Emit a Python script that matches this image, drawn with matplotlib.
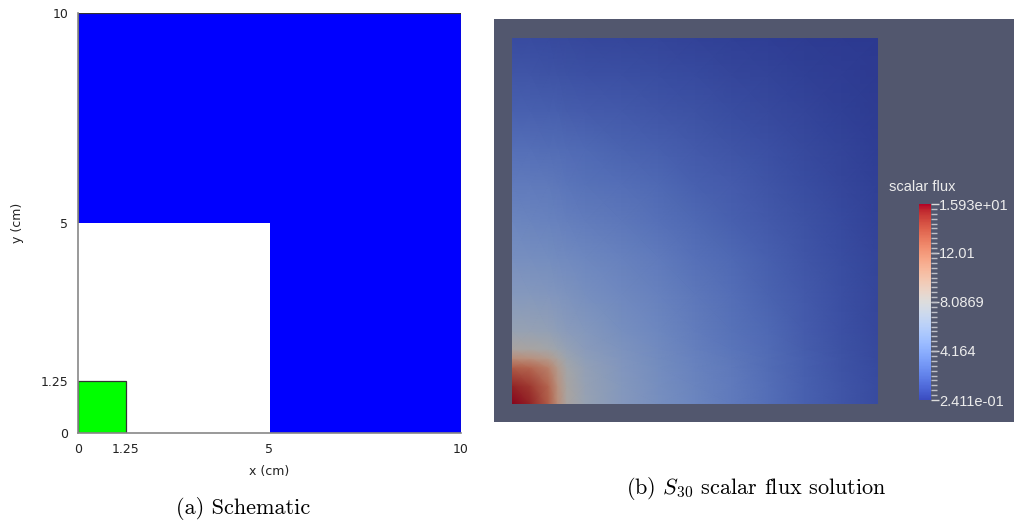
import numpy as np
import matplotlib
matplotlib.use("Agg")
import matplotlib.pyplot as plt
from matplotlib.patches import Rectangle
from matplotlib.colors import Normalize, ListedColormap
from matplotlib.cm import ScalarMappable
from matplotlib.ticker import FixedLocator

# ---------------- data ----------------
# schematic regions (lower-left corner at origin, square side in cm)
region_sizes = [10.0, 5.0, 1.25]
region_colors = ["#0000ff", "#ffffff", "#00ff00"]
axis_ticks = [0, 1.25, 5, 10]
axis_ticklabels = ["0", "1.25", "5", "10"]

# scalar flux sampled on a (non-uniform) node grid, rows = y, cols = x
grid_nodes = [0.0, 0.5, 1.0, 1.25, 1.5, 2.0, 3.0, 4.0, 5.0, 6.0, 7.0, 8.0, 9.0, 10.0]
flux = [
    [15.9, 15.2, 13.0, 10.5, 8.4, 7.0, 5.8, 5.0, 4.3, 3.6, 2.9, 2.2, 1.6, 1.1],
    [15.2, 14.5, 12.6, 10.2, 8.3, 6.9, 5.7, 4.9, 4.2, 3.6, 2.9, 2.2, 1.6, 1.1],
    [13.0, 12.6, 11.2, 9.4, 7.9, 6.7, 5.6, 4.8, 4.1, 3.5, 2.8, 2.1, 1.5, 1.05],
    [10.5, 10.2, 9.4, 8.4, 7.4, 6.4, 5.5, 4.7, 4.0, 3.4, 2.8, 2.1, 1.5, 1.0],
    [8.4, 8.3, 7.9, 7.4, 6.8, 6.1, 5.3, 4.6, 3.9, 3.3, 2.7, 2.0, 1.45, 1.0],
    [7.0, 6.9, 6.7, 6.4, 6.1, 5.7, 5.0, 4.4, 3.7, 3.1, 2.6, 1.95, 1.4, 0.95],
    [5.8, 5.7, 5.6, 5.5, 5.3, 5.0, 4.5, 4.0, 3.4, 2.9, 2.3, 1.8, 1.3, 0.9],
    [5.0, 4.9, 4.8, 4.7, 4.6, 4.4, 4.0, 3.6, 3.0, 2.6, 2.1, 1.65, 1.2, 0.8],
    [4.3, 4.2, 4.1, 4.0, 3.9, 3.7, 3.4, 3.0, 2.6, 2.2, 1.8, 1.45, 1.05, 0.7],
    [3.6, 3.6, 3.5, 3.4, 3.3, 3.1, 2.9, 2.6, 2.2, 1.9, 1.55, 1.2, 0.9, 0.6],
    [2.9, 2.9, 2.8, 2.8, 2.7, 2.6, 2.3, 2.1, 1.8, 1.55, 1.3, 1.0, 0.75, 0.5],
    [2.2, 2.2, 2.1, 2.1, 2.0, 1.95, 1.8, 1.65, 1.45, 1.2, 1.0, 0.8, 0.6, 0.42],
    [1.6, 1.6, 1.5, 1.5, 1.45, 1.4, 1.3, 1.2, 1.05, 0.9, 0.75, 0.6, 0.45, 0.33],
    [1.1, 1.1, 1.05, 1.0, 1.0, 0.95, 0.9, 0.8, 0.7, 0.6, 0.5, 0.42, 0.33, 0.24],
]
flux_min = 0.2411
flux_max = 15.93
cbar_ticks = [0.2411, 4.164, 8.0869, 12.01, 15.93]
cbar_ticklabels = ["2.411e-01", "4.164", "8.0869", "12.01", "1.593e+01"]

# ---------------- figure ----------------
W, H = 1014, 523
fig = plt.figure(figsize=(W / 100, H / 100), dpi=100)
fig.patch.set_facecolor("white")
plt.rcParams["mathtext.fontset"] = "cm"


def px_rect(x0, y0, x1, y1):
    """Figure-fraction rectangle from a pixel box (top-left origin)."""
    return [x0 / W, 1 - y1 / H, (x1 - x0) / W, (y1 - y0) / H]


# ----- (a) schematic -----
ax = fig.add_axes(px_rect(78, 13, 461, 433))
for size, color in zip(region_sizes, region_colors):
    edge = "#333333" if color != "#ffffff" else "none"
    ax.add_patch(Rectangle((0, 0), size, size, facecolor=color,
                           edgecolor=edge, linewidth=0.9, zorder=1))
ax.set_xlim(0, 10)
ax.set_ylim(0, 10)
ax.set_xticks(axis_ticks)
ax.set_xticklabels(axis_ticklabels)
ax.set_yticks(axis_ticks)
ax.set_yticklabels(axis_ticklabels)
ax.tick_params(length=0, labelsize=9, pad=7, colors="#222222")
for side in ("top", "right"):
    ax.spines[side].set_visible(False)
for side in ("left", "bottom"):
    ax.spines[side].set_color("#888888")
    ax.spines[side].set_linewidth(1.2)
    ax.spines[side].set_zorder(3)
ax.set_xlabel("x (cm)", fontsize=9, color="#222222")
ax.set_ylabel("y (cm)", fontsize=9, color="#222222")
ax.xaxis.set_label_coords(0.5, -0.076)
ax.yaxis.set_label_coords(-0.141, 0.5)

fig.text(243 / W, 1 - 509 / H, "(a) Schematic", family="cmr10",
         fontsize=16, ha="center", va="center")
fig.text(756 / W, 1 - 488 / H, r"(b) $S_{30}$ scalar flux solution",
         family="cmr10", fontsize=16, ha="center", va="center")

# ----- (b) flux field in a viewer-style panel -----
bg = (82 / 255, 87 / 255, 110 / 255)
bg_ax = fig.add_axes(px_rect(494, 19, 1014, 422))
bg_ax.set_facecolor(bg)
bg_ax.set_xticks([])
bg_ax.set_yticks([])
for s in bg_ax.spines.values():
    s.set_visible(False)

base = plt.get_cmap("coolwarm")
lit = base(np.linspace(0, 1, 256))[:, :3] * 0.75
shaded = ListedColormap(lit)
norm = Normalize(vmin=flux_min, vmax=flux_max)

fax = fig.add_axes(px_rect(512, 38, 878, 404))
X, Y = np.meshgrid(grid_nodes, grid_nodes)
fax.pcolormesh(X, Y, np.array(flux), cmap=shaded, norm=norm,
               shading="gouraud")
fax.set_xlim(0, 10)
fax.set_ylim(0, 10)
fax.set_axis_off()

cax = fig.add_axes(px_rect(919, 204, 931, 400))
cb = fig.colorbar(ScalarMappable(norm=norm, cmap=base), cax=cax)
cb.outline.set_visible(False)
cb.set_ticks(cbar_ticks)
cb.set_ticklabels(cbar_ticklabels)
cax.yaxis.set_minor_locator(FixedLocator(np.linspace(flux_min, flux_max, 41)))
cax.tick_params(which="major", length=6, width=1, colors="#dcdcdc",
                pad=0, labelsize=10.5)
cax.tick_params(which="minor", length=4, width=1, colors="#bfc0c8")
for lbl in cax.get_yticklabels():
    lbl.set_family("Liberation Sans")
    lbl.set_color("#ececec")
fig.text(889 / W, 1 - 187 / H, "scalar flux", family="Liberation Sans",
         fontsize=10.5, color="#ececec", ha="left", va="center")

fig.savefig("out.png", dpi=100)
